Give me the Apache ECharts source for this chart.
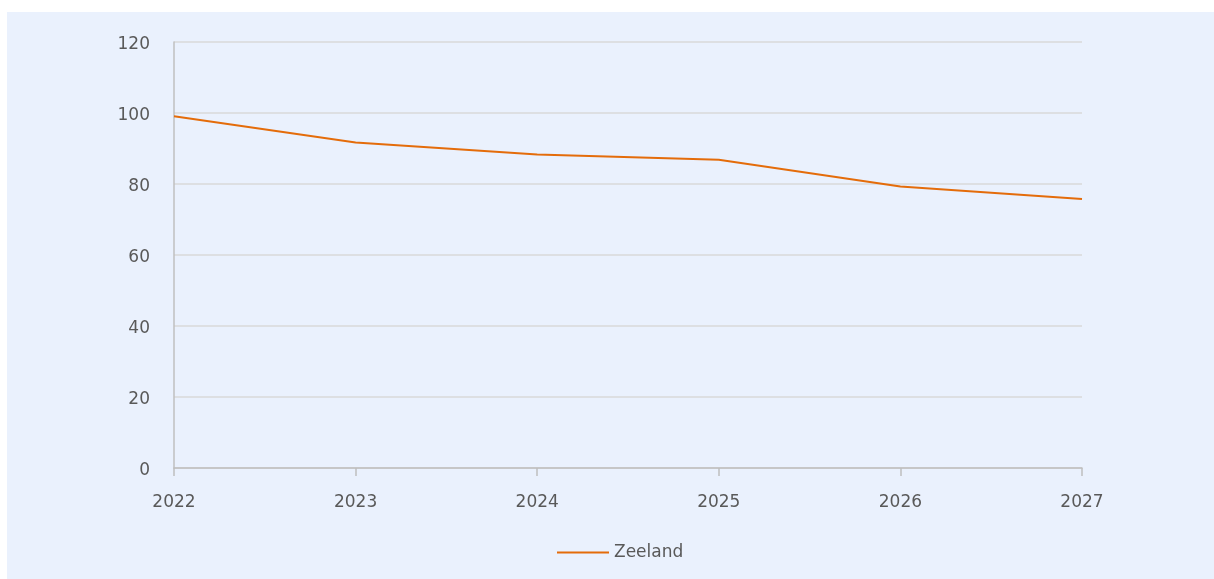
<!DOCTYPE html>
<html><head><meta charset="utf-8">
<script src="https://cdn.jsdelivr.net/npm/echarts@6/dist/echarts.min.js"></script>
<style>html,body{margin:0;padding:0;background:#fff}#c{width:1214px;height:579px}</style>
</head><body><div id="c"></div>
<script>
const years = ['2022','2023','2024','2025','2026','2027'];
const zeeland = [99.1, 91.7, 88.3, 86.8, 79.3, 75.8];
const yTicks = {min:0, max:120, interval:20};
const chart = echarts.init(document.getElementById('c'), null, {renderer:'canvas'});
const font = '"DejaVu Sans", sans-serif';
chart.setOption({
  animation:false,
  graphic:[{type:'rect', shape:{x:7,y:12,width:1207,height:567}, style:{fill:'#EAF1FD'}, z:-10, silent:true}],
  grid:{left:174, right:132, top:42, bottom:111},
  legend:{top:544, left:557, padding:0, itemWidth:52, itemHeight:2, icon:'rect', itemGap:10,
    textStyle:{fontFamily:font, fontSize:17, color:'#595959'}, data:['Zeeland']},
  xAxis:{type:'category', data:years, boundaryGap:false,
    axisLine:{lineStyle:{color:'#BFBFBF', width:1.5}},
    axisTick:{show:true, length:8, lineStyle:{color:'#BFBFBF', width:1.5}},
    axisLabel:{fontFamily:font, fontSize:17, color:'#595959', margin:26}},
  yAxis:{type:'value', min:yTicks.min, max:yTicks.max, interval:yTicks.interval,
    axisLine:{show:true, lineStyle:{color:'#BFBFBF', width:1.5}},
    axisTick:{show:false},
    splitLine:{lineStyle:{color:'#D9D9D9', width:1.5}},
    axisLabel:{margin:24, formatter:'{a|{value}}',
      rich:{a:{fontFamily:font, fontSize:17, color:'#595959', padding:[6,0,0,0]}}}},
  series:[{name:'Zeeland', type:'line', data:zeeland, symbol:'none',
    lineStyle:{color:'#E46C0A', width:2}, itemStyle:{color:'#E46C0A'}}]
});
</script></body></html>
